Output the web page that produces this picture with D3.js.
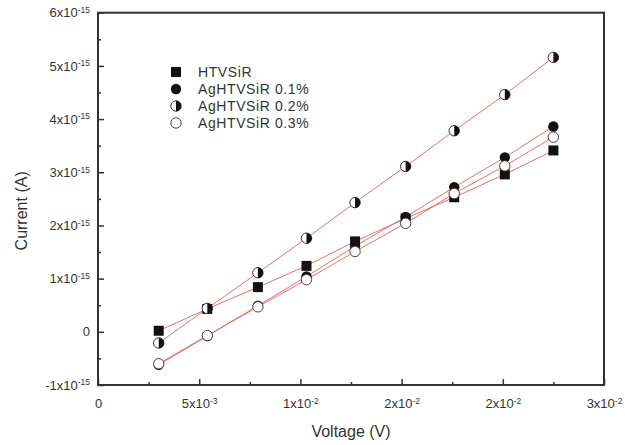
<!DOCTYPE html>
<html lang="en">
<head>
  <meta charset="UTF-8">
  <title>Current vs Voltage</title>
  <script src="https://d3js.org/d3.v7.min.js"></script>
  <style>
    body {
      margin: 0;
      background: #fff;
      font-family: "Liberation Sans", Arial, sans-serif;
    }
    svg text { fill: #333; }
  </style>
</head>
<body>
  <div id="chart"></div>
  <script>
    // voltage (V) of each measurement
    const voltage = [0.0030, 0.0054, 0.0079, 0.0103, 0.0127, 0.0152, 0.0176, 0.0201, 0.0225];

    // current in units of 1e-15 A
    const htvsir   = [0.02, 0.43, 0.84, 1.24, 1.70, 2.13, 2.53, 2.96, 3.41];
    const ag01     = [-0.62, -0.08, 0.49, 1.04, 1.61, 2.16, 2.72, 3.28, 3.86];
    const ag02     = [-0.21, 0.44, 1.11, 1.76, 2.43, 3.11, 3.78, 4.46, 5.16];
    const ag03     = [-0.60, -0.07, 0.47, 0.98, 1.51, 2.04, 2.60, 3.12, 3.66];

    const seriesNames = ["HTVSiR", "AgHTVSiR 0.1%", "AgHTVSiR 0.2%", "AgHTVSiR 0.3%"];
    const markers = ["square", "filled", "half", "open"];

    const xTicks = [0, 0.005, 0.01, 0.015, 0.02, 0.025];
    const yTicks = [-1, 0, 1, 2, 3, 4, 5, 6];   // x 1e-15

    const series = [htvsir, ag01, ag02, ag03].map((vals, i) => ({
      name: seriesNames[i],
      marker: markers[i],
      points: vals.map((v, j) => ({ x: voltage[j], y: v * 1e-15 }))
    }));

    const W = 632, H = 445;
    const margin = { top: 12.7, right: 28, bottom: 60, left: 98 },
          width = W - margin.left - margin.right,
          height = H - margin.top - margin.bottom;

    const svg = d3.select("#chart").append("svg")
      .attr("width", W)
      .attr("height", H);

    const g = svg.append("g")
      .attr("transform", `translate(${margin.left},${margin.top})`);

    const x = d3.scaleLinear().domain([0, 0.025]).range([0, width]);
    const y = d3.scaleLinear().domain([-1e-15, 6e-15]).range([height, 0]);

    // "5x10^-3" style labels with superscript exponent
    function sciLabel(textSel) {
      textSel.each(function(v) {
        const t = d3.select(this).text(null);
        if (Math.abs(v) < 1e-30) { t.append("tspan").text("0"); return; }
        const e = Math.floor(Math.log10(Math.abs(v)) + 1e-9);
        const m = Math.round(v / Math.pow(10, e) + 1e-9);
        t.append("tspan").text(`${m}x10`);
        t.append("tspan")
          .attr("dy", "-0.5em")
          .attr("font-size", "8.5px")
          .text(e);
      });
    }

    // minor ticks
    const xMinor = d3.range(0, 10).map(i => 0.0025 + i * 0.005).filter(v => v < 0.025);
    const yMinor = d3.range(-1, 6).map(v => (v + 0.5) * 1e-15);

    g.append("g")
      .attr("transform", `translate(0,${height})`)
      .call(d3.axisBottom(x).tickValues(xMinor).tickSizeInner(-3).tickSizeOuter(0).tickFormat(""))
      .call(a => a.select(".domain").remove());

    g.append("g")
      .call(d3.axisLeft(y).tickValues(yMinor).tickSizeInner(-3).tickSizeOuter(0).tickFormat(""))
      .call(a => a.select(".domain").remove());

    // major ticks + labels
    const xAxis = g.append("g")
      .attr("transform", `translate(0,${height})`)
      .call(d3.axisBottom(x).tickValues(xTicks).tickSizeInner(-6).tickSizeOuter(0).tickPadding(14))
      .call(a => a.select(".domain").remove());
    xAxis.selectAll("text").call(sciLabel);

    const yAxis = g.append("g")
      .call(d3.axisLeft(y).tickValues(yTicks.map(v => v * 1e-15)).tickSizeInner(-6).tickSizeOuter(0).tickPadding(8))
      .call(a => a.select(".domain").remove());
    yAxis.selectAll("text").call(sciLabel);

    svg.selectAll(".tick line").attr("stroke", "#333").attr("stroke-width", 1.5);
    svg.selectAll(".tick text")
      .attr("font-family", "'Liberation Sans', Arial, sans-serif")
      .attr("font-size", 13)
      .attr("fill", "#333");

    // frame
    g.append("rect")
      .attr("width", width)
      .attr("height", height)
      .attr("fill", "none")
      .attr("stroke", "#333")
      .attr("stroke-width", 2);

    // axis titles
    g.append("text")
      .attr("x", width / 2)
      .attr("y", height + 52)
      .attr("text-anchor", "middle")
      .attr("font-size", 16)
      .text("Voltage (V)");

    svg.append("text")
      .attr("transform", `translate(27,${margin.top + height / 2 + 12}) rotate(-90)`)
      .attr("text-anchor", "middle")
      .attr("font-size", 16)
      .text("Current (A)");

    // lines
    const line = d3.line().x(d => x(d.x)).y(d => y(d.y));

    g.selectAll("path.series")
      .data(series)
      .enter()
      .append("path")
      .attr("class", "series")
      .attr("d", d => line(d.points))
      .attr("fill", "none")
      .attr("stroke", "#e65454")
      .attr("stroke-opacity", 0.85)
      .attr("stroke-width", 1);

    // markers
    const R = 5.2;
    function drawMarker(sel, type) {
      if (type === "square") {
        sel.append("rect")
          .attr("x", -5).attr("y", -5)
          .attr("width", 10).attr("height", 10)
          .attr("fill", "#111");
      } else if (type === "filled") {
        sel.append("circle").attr("r", R).attr("fill", "#111");
      } else if (type === "half") {
        sel.append("circle").attr("r", R).attr("fill", "#fff")
          .attr("stroke", "#333").attr("stroke-width", 1);
        sel.append("path")
          .attr("d", `M0,${-R}A${R},${R} 0 0 1 0,${R}Z`)
          .attr("fill", "#111");
      } else {
        sel.append("circle").attr("r", R).attr("fill", "#fff")
          .attr("stroke", "#444").attr("stroke-width", 1);
      }
    }

    series.forEach(s => {
      g.selectAll(null)
        .data(s.points)
        .enter()
        .append("g")
        .attr("transform", d => `translate(${x(d.x)},${y(d.y)})`)
        .each(function() { drawMarker(d3.select(this), s.marker); });
    });

    // legend
    const legend = svg.append("g")
      .attr("transform", "translate(176,72)");

    const item = legend.selectAll("g")
      .data(series)
      .enter()
      .append("g")
      .attr("transform", (d, i) => `translate(0,${i * 17})`);

    item.each(function(d) { drawMarker(d3.select(this), d.marker); });

    item.append("text")
      .attr("x", 22)
      .attr("dy", "0.35em")
      .attr("font-size", 14)
      .attr("letter-spacing", 0.6)
      .text(d => d.name);
  </script>
</body>
</html>
